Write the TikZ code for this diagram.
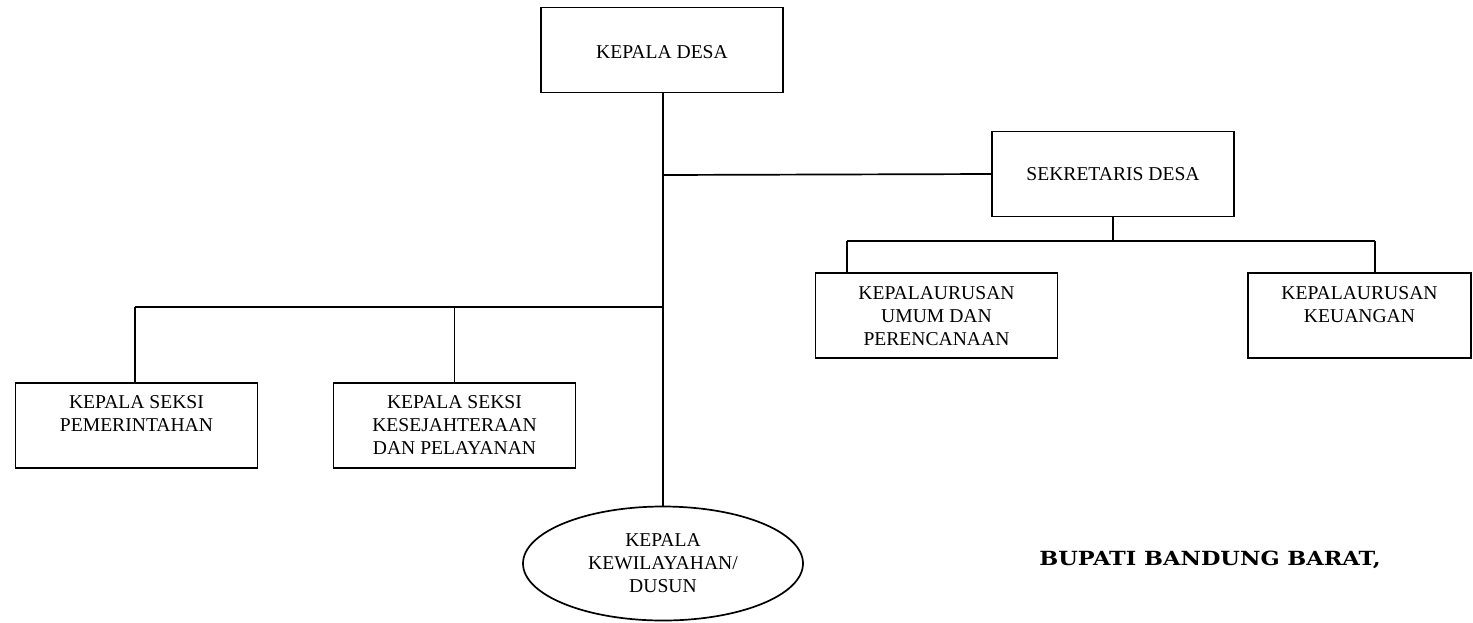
\documentclass[tikz,border=0pt]{standalone}
\usepackage{fontspec}
\setmainfont{Liberation Serif}
\newfontfamily\bupfont{DejaVu Serif}
\usetikzlibrary{shapes.geometric,calc}
\begin{document}
\begin{tikzpicture}[x=1pt,y=-1pt,
  txt/.style={font=\fontsize{19.6}{23}\selectfont,align=center},
  box/.style={txt,draw,line width=1.7pt,rectangle,minimum width=242pt,minimum height=85pt,inner sep=0pt},
  lbl/.style={txt,inner sep=0pt,anchor=north},
  oval/.style={txt,draw,line width=1.7pt,ellipse,minimum width=280pt,minimum height=114pt,inner sep=0pt},
  wire/.style={line width=1.7pt}]
\useasboundingbox (0,0) rectangle (1473,622);
% boxes
\node[box] (kd) at (662,50) {};
\node[txt,inner sep=0pt] (kdt) at (662,52) {KEPALA DESA};
\node[box] (sek) at (1113,174) {SEKRETARIS DESA};
\node[box] (umum) at (936.5,315.5) {};
\node[box,minimum width=223pt] (keu) at (1359.5,315.5) {};
\node[box] (pem) at (136.5,425.5) {};
\node[box] (kes) at (454.5,425.5) {};
\node[oval] (ell) at (663,563.5) {KEPALA\\KEWILAYAHAN/\\DUSUN};
% texts
\node[lbl] (umumt) at ($(umum.north)+(0,14)$) {KEPALAURUSAN\\UMUM DAN\\PERENCANAAN};
\node[lbl] (keut) at ($(keu.north)+(0,14)$) {KEPALAURUSAN\\KEUANGAN};
\node[lbl] (pemt) at ($(pem.north)+(0,13)$) {KEPALA SEKSI\\PEMERINTAHAN};
\node[lbl] (kest) at ($(kes.north)+(0,13)$) {KEPALA SEKSI\\KESEJAHTERAAN\\DAN PELAYANAN};
\node[inner sep=0pt,font=\bupfont\bfseries\fontsize{19.5}{22}\selectfont] (bup) at (1210,560) {\scalebox{1.15}[1]{BUPATI BANDUNG BARAT,}};
% connectors
\coordinate (j1) at (663,175);
\coordinate (bus1L) at (135,307);
\coordinate (j2) at (663,307);
\coordinate (bus2L) at (847,241);
\coordinate (bus2R) at (1375,241);
\draw[wire] (kd.south -| ell.north) -- (ell.north);
\draw[wire] (j1) -- (sek.west);
\draw[wire] (sek.south) -- (sek.south |- bus2L);
\draw[wire] (bus2L) -- (bus2R);
\draw[wire] (bus2L) -- (bus2L |- umum.north);
\draw[wire] (bus2R) -- (bus2R |- keu.north);
\draw[wire] (bus1L) -- (j2);
\draw[wire] (bus1L) -- (bus1L |- pem.north);
\draw[wire] (kes.north) -- (kes.north |- bus1L);
\end{tikzpicture}
\end{document}
